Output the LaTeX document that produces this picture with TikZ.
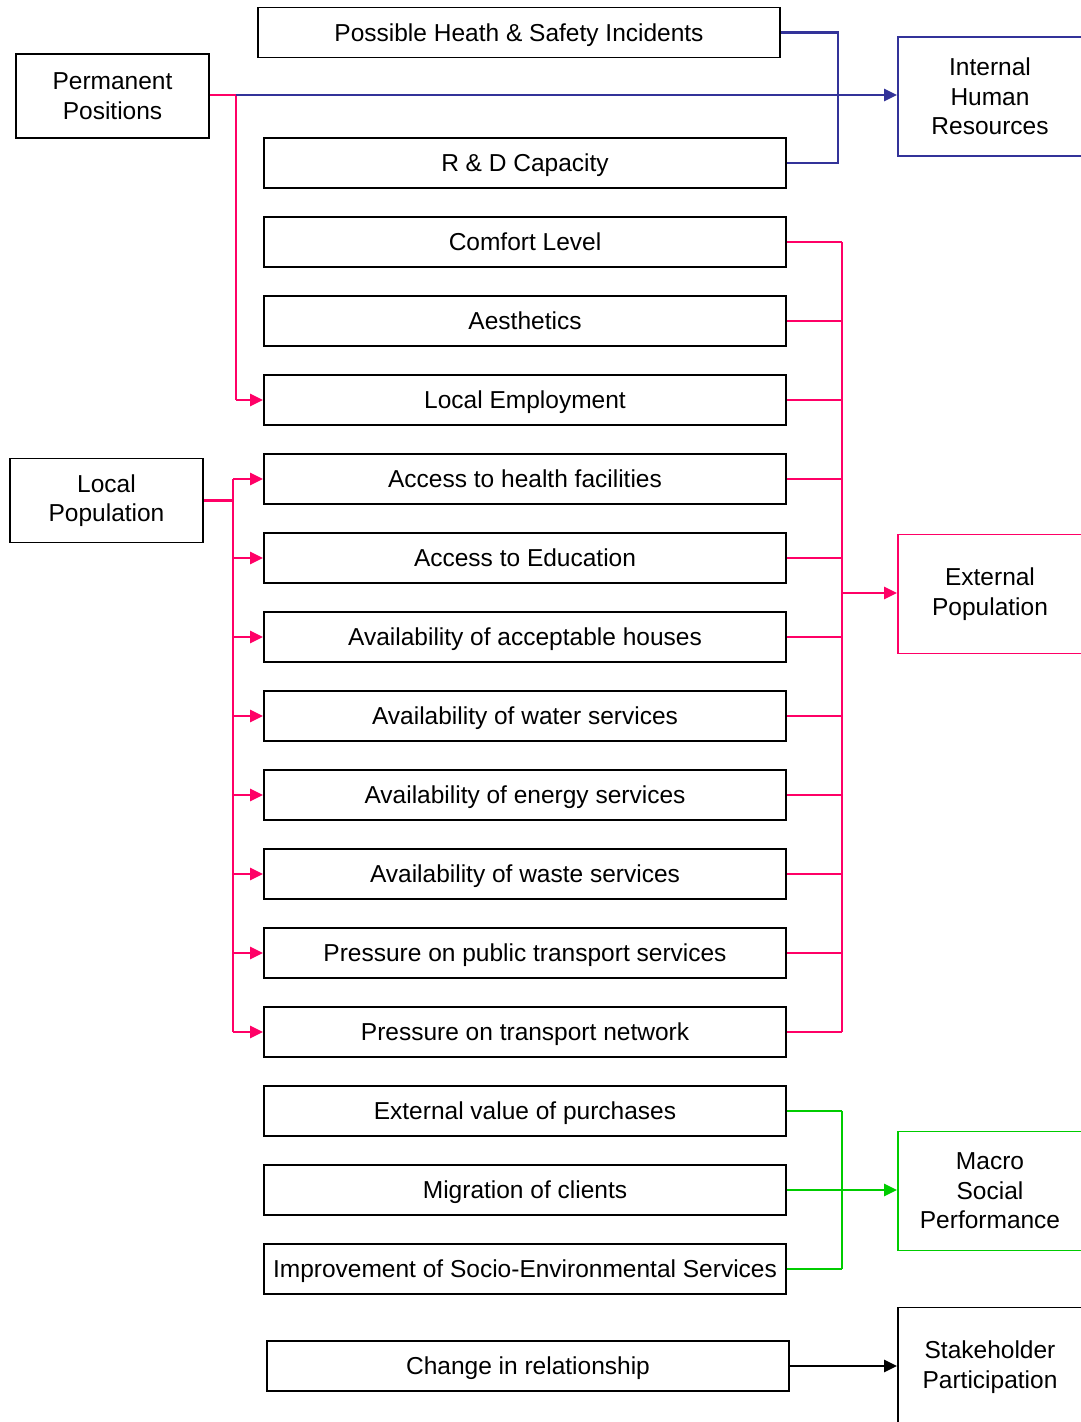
\documentclass[tikz,border=0pt]{standalone}
\usepackage{fontspec}
\setmainfont{Liberation Sans}
\usetikzlibrary{arrows.meta}
\definecolor{hrblue}{HTML}{333399}
\definecolor{poppink}{HTML}{FF0066}
\definecolor{macrogreen}{HTML}{00CC00}
\begin{document}
\begin{tikzpicture}[x=1pt,y=-1pt,
  every node/.style={font=\fontsize{24.5}{29.5}\selectfont, text=black, align=center, inner sep=0pt},
  box/.style={draw=black, line width=1.8pt, rectangle, minimum width=522pt, minimum height=50pt,
    text height=23pt, text depth=5.2pt},
  sidebox/.style={draw=black, line width=1.8pt, rectangle, minimum width=193pt, minimum height=84pt},
  target/.style={draw=#1, line width=1.8pt, rectangle, minimum width=184pt, minimum height=119pt},
  link/.style={line width=2.5pt, draw=#1},
  tip/.style={-{Triangle[length=13pt,width=12pt]}}
]
\useasboundingbox (0,0) rectangle (1081,1422);
\clip (0,0) rectangle (1081,1422);

% source boxes on the left
\node[sidebox] (perm) at (112.5,96) {Permanent\\Positions};
\node[sidebox] (locpop) at (106.5,500.5) {Local\\Population};

% indicator boxes
\node[box] (phs) at (519,32.5) {Possible Heath \& Safety Incidents};
\node[box] (rd) at (525,163) {R \& D Capacity};
\node[box] (comfort) at (525,242) {Comfort Level};
\node[box] (aesth) at (525,321) {Aesthetics};
\node[box] (lemp) at (525,400) {Local Employment};
\node[box] (health) at (525,479) {Access to health facilities};
\node[box] (edu) at (525,558) {Access to Education};
\node[box] (houses) at (525,637) {Availability of acceptable houses};
\node[box] (water) at (525,716) {Availability of water services};
\node[box] (energy) at (525,795) {Availability of energy services};
\node[box] (waste) at (525,874) {Availability of waste services};
\node[box] (ptrans) at (525,953) {Pressure on public transport services};
\node[box] (tnet) at (525,1032) {Pressure on transport network};
\node[box] (purch) at (525,1111) {External value of purchases};
\node[box] (migr) at (525,1190) {Migration of clients};
\node[box] (improv) at (525,1269) {Improvement of Socio-Environmental Services};
\node[box] (change) at (528,1366) {Change in relationship};

% target boxes on the right
\node[target=hrblue] (ihr) at (990,96.5) {Internal\\Human\\Resources};
\node[target=poppink] (extpop) at (990,594) {External\\Population};
\node[target=macrogreen] (macro) at (990,1191) {Macro\\Social\\Performance};
\node[target=black] (stake) at (990,1367) {Stakeholder\\Participation};

% bus lines
\coordinate (bx) at (838,0);
\coordinate (rx) at (842,0);
\coordinate (px) at (236,0);
\coordinate (lx) at (233,0);

% internal human resources
\draw[link=hrblue] (phs.east) -| (bx |- rd.east) -- (rd.east);
\draw[link=poppink] (perm.east |- 0,95) -- (px |- 0,95) -- (px |- lemp.west);
\draw[link=poppink,tip] (px |- lemp.west) -- (lemp.west);
\draw[link=hrblue,tip] (px |- 0,95) -- (ihr.west |- 0,95);

% local population fan-out
\draw[link=poppink] (locpop.east) -- (lx |- locpop.east);
\draw[link=poppink] (lx |- health.west) -- (lx |- tnet.west);
\foreach \n in {health,edu,houses,water,energy,waste,ptrans,tnet}
  \draw[link=poppink,tip] (lx |- \n.west) -- (\n.west);

% external population collector
\foreach \n in {comfort,aesth,lemp,health,edu,houses,water,energy,waste,ptrans,tnet}
  \draw[link=poppink] (\n.east) -- (rx |- \n.east);
\draw[link=poppink] (rx |- comfort.east) -- (rx |- tnet.east);
\draw[link=poppink,tip] (rx |- 0,593) -- (extpop.west |- 0,593);

% macro social performance collector
\foreach \n in {purch,migr,improv}
  \draw[link=macrogreen] (\n.east) -- (rx |- \n.east);
\draw[link=macrogreen] (rx |- purch.east) -- (rx |- improv.east);
\draw[link=macrogreen,tip] (rx |- migr.east) -- (macro.west |- migr.east);

% stakeholder participation
\draw[link=black,tip] (change.east) -- (change.east -| stake.west);
\end{tikzpicture}
\end{document}
